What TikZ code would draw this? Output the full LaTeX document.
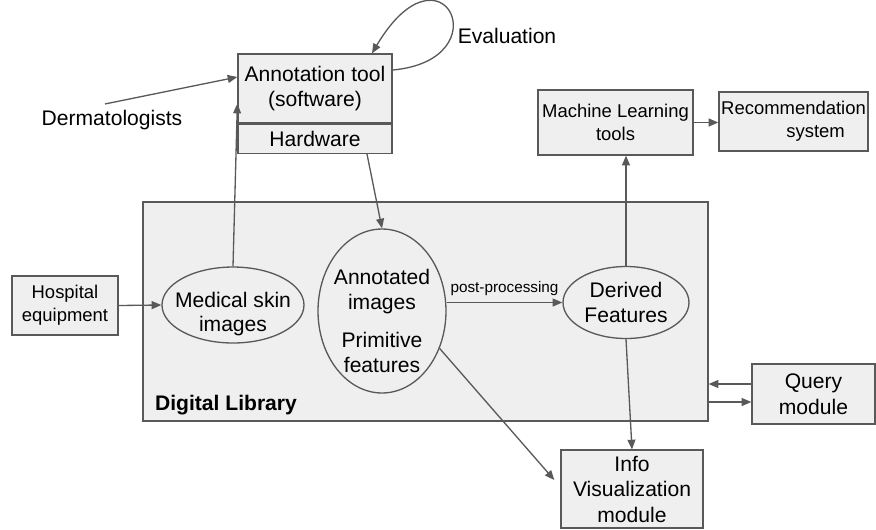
\documentclass[tikz,border=0pt]{standalone}
\usepackage{fontspec}
\setmainfont{Liberation Sans}
\usepackage{tikz}
\usetikzlibrary{positioning, arrows.meta, shapes.geometric}
\definecolor{boxfill}{HTML}{EFEFEF}
\definecolor{edge}{HTML}{595959}

\begin{document}
\begin{tikzpicture}[
  x=0.02cm, y=-0.02cm,
  box/.style={draw=edge, fill=boxfill, line width=0.75pt, align=center,
              font=\fontsize{12}{14.5}\selectfont, inner sep=2pt},
  smallbox/.style={box, font=\fontsize{10.5}{13}\selectfont},
  blob/.style={ellipse, draw=edge, fill=boxfill, line width=0.75pt, align=center,
               inner sep=-1.2cm, font=\fontsize{12}{14}\selectfont},
  arr/.style={-{Triangle[length=5.5pt, width=4.5pt]}, line width=0.75pt, color=edge},
  tag/.style={font=\fontsize{12}{14}\selectfont},
]
  \useasboundingbox (0,0) rectangle (876,529);

  % the library and what sits in it
  \node[box, minimum width=11.3cm, minimum height=4.38cm] (dl) at (425.5,311.5) {};
  \node[font=\fontsize{12}{14}\selectfont\bfseries] (dllabel) at (226,405) {Digital Library};
  \node[blob, minimum width=2.84cm, minimum height=1.52cm] (med) at (233,305) {\rule{0pt}{19pt}Medical skin\\images};
  \node[blob, minimum width=2.56cm, minimum height=3.28cm] (ann) at (382,311) {\rule{0pt}{20pt}Annotated\\images\\[8pt]Primitive\\features};
  \node[blob, minimum width=2.52cm, minimum height=1.44cm] (der) at (626,302.5) {Derived\\Features};

  % boxes round it
  \node[box, minimum width=3.08cm, minimum height=1.38cm] (annot) at (315,88.5) {Annotation tool\\(software)};
  \node[box, minimum width=3.08cm, minimum height=0.58cm, anchor=north] (hw) at (annot.south) {Hardware};
  \node[smallbox, minimum width=2.12cm, minimum height=1.18cm] (hosp) at (65,305.5) {Hospital\\equipment};
  \node[smallbox, minimum width=3.1cm, minimum height=1.3cm] (ml) at (615.5,122.5) {Machine Learning\\tools};
  \node[smallbox, minimum width=2.98cm, minimum height=1.18cm, inner xsep=1pt] (rec) at (793.5,121.5) {Recommendation\\\hspace*{2.4em}system};
  \node[box, minimum width=2.84cm, minimum height=1.56cm] (info) at (632,489) {Info\\Visualization\\module};
  \node[box, minimum width=2.46cm, minimum height=1.2cm] (qry) at (813.5,394) {Query\\module};
  \node[tag] (eval) at (507,36) {Evaluation};
  \node[tag] (derm) at (112,120) {Dermatologists};

  \draw[arr] ([xshift=-0.14cm]derm.north) -- ([yshift=0.23cm]annot.west);
  \draw[arr] ([yshift=0.37cm]annot.east) .. controls +(110,-10) and +(70,-118) .. ([xshift=1.14cm]annot.north);
  \draw[arr] (med.north) -- ([yshift=0.4cm]annot.south west);
  \draw[arr] ([xshift=1.04cm]hw.south) -- (ann.north);
  \draw[arr] (hosp.east) -- (med.west);
  \draw[arr] (ann.east |- der.west) -- node[above, text=black, font=\fontsize{8.7}{10}\selectfont] (pplabel) {post-processing} (der.west);
  \draw[arr] (der.north) -- (der.north |- ml.south);
  \draw[arr] (ml.east) -- (ml.east -| rec.west);
  \draw[arr] (der.south) -- (info.north);
  \draw[arr] (ann.-33) -- ([xshift=-0.12cm, yshift=0.18cm]info.west);
  \draw[arr] ([yshift=0.2cm]qry.west) -- ([yshift=0.2cm]qry.west -| dl.east);
  \draw[arr] ([yshift=-0.16cm]qry.west -| dl.east) -- ([yshift=-0.16cm]qry.west);
\end{tikzpicture}
\end{document}
